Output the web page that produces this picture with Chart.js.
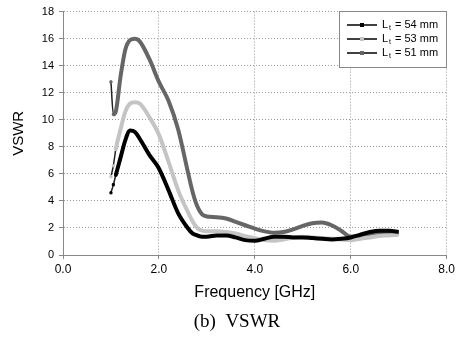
<!DOCTYPE html>
<html>
<head>
<meta charset="utf-8">
<script src="https://cdn.jsdelivr.net/npm/chart.js@4.4.1/dist/chart.umd.min.js"></script>
<style>
  html, body { margin: 0; padding: 0; background: #fff; }
  #wrap { width: 458px; height: 338px; position: relative; }
</style>
</head>
<body>
<div id="wrap"><canvas id="chart_vswr"></canvas></div>
<script>
// Data
const freq = [1.0, 1.05, 1.1, 1.2, 1.3, 1.4, 1.5, 1.6, 1.8, 2.0, 2.2, 2.4, 2.6, 2.7, 2.8, 2.9, 3.0, 3.2, 3.4, 3.6, 3.8, 4.0, 4.2, 4.4, 4.6, 4.8, 5.0, 5.2, 5.4, 5.6, 5.8, 6.0, 6.2, 6.4, 6.6, 6.8, 7.0];
const vswr54 = [4.6, 5.2, 5.9, 7.2, 8.5, 9.2, 9.1, 8.6, 7.4, 6.4, 4.8, 3.1, 2.0, 1.6, 1.45, 1.35, 1.35, 1.45, 1.45, 1.3, 1.1, 1.05, 1.2, 1.35, 1.35, 1.3, 1.3, 1.25, 1.2, 1.15, 1.2, 1.3, 1.5, 1.7, 1.8, 1.8, 1.7];
const vswr53 = [5.8, 6.6, 7.8, 9.3, 10.6, 11.2, 11.3, 11.2, 10.2, 8.9, 6.9, 4.8, 3.2, 2.5, 2.0, 1.8, 1.75, 1.75, 1.7, 1.6, 1.4, 1.25, 1.1, 1.05, 1.15, 1.3, 1.35, 1.3, 1.25, 1.2, 1.15, 1.1, 1.2, 1.3, 1.4, 1.45, 1.5];
const vswr51 = [12.8, 10.4, 10.6, 13.2, 15.2, 15.9, 16.0, 15.8, 14.5, 12.8, 11.4, 9.3, 6.2, 4.7, 3.6, 3.0, 2.85, 2.8, 2.7, 2.45, 2.2, 1.95, 1.75, 1.65, 1.7, 1.9, 2.15, 2.35, 2.4, 2.2, 1.8, 1.35, 1.4, 1.55, 1.65, 1.7, 1.6];
const seriesNames = ['54 mm', '53 mm', '51 mm'];
const xTicks = [0, 2, 4, 6, 8];

function makeSeries(values, color, thinCount) {
  return {
    data: freq.map((f, i) => ({x: f, y: values[i]})),
    borderColor: color,
    backgroundColor: color,
    borderWidth: 4,
    cubicInterpolationMode: 'monotone',
    pointStyle: 'rect',
    pointRadius: values.map((v, i) => i <= thinCount ? 1.5 : 0),
    pointBorderWidth: 1,
    pointBorderColor: color,
    segment: {
      borderWidth: ctx => ctx.p0DataIndex < thinCount ? 1.5 : 4,
      borderColor: ctx => ctx.p0DataIndex < thinCount ? '#222' : color
    }
  };
}

// Legend box with subscript "t"
const legendBox = {
  id: 'legendBox',
  afterDraw(chart) {
    const c = chart.ctx;
    const x0 = 339, y0 = 11, w = 107, h = 56;
    c.save();
    c.fillStyle = '#fff';
    c.fillRect(x0, y0, w, h);
    c.strokeStyle = '#888';
    c.lineWidth = 1;
    c.strokeRect(x0 + 0.5, y0 + 0.5, w, h);
    const colors = ['#000', '#c4c4c4', '#666'];
    seriesNames.forEach((name, i) => {
      const y = 25 + i * 14;
      c.strokeStyle = '#000';
      c.lineWidth = 1.5;
      c.beginPath();
      c.moveTo(347, y);
      c.lineTo(377, y);
      c.stroke();
      c.fillStyle = colors[i];
      c.fillRect(360, y - 2, 4, 4);
      c.fillStyle = '#000';
      c.textBaseline = 'middle';
      c.font = '11px "Liberation Sans", Arial, sans-serif';
      c.fillText('L', 382, y);
      c.font = '7px "Liberation Sans", Arial, sans-serif';
      c.fillText('t', 389, y + 3);
      c.font = '11px "Liberation Sans", Arial, sans-serif';
      c.fillText('= ' + name, 395, y);
    });
    c.restore();
  }
};

// Caption below the chart
const caption = {
  id: 'caption',
  afterDraw(chart) {
    const c = chart.ctx;
    c.save();
    c.fillStyle = '#000';
    c.font = '19px "Liberation Serif", "Times New Roman", serif';
    c.textAlign = 'center';
    c.textBaseline = 'middle';
    c.fillText('(b)  VSWR', 237, 322);
    c.restore();
  }
};

document.addEventListener('DOMContentLoaded', function() {
  const ctx = document.getElementById('chart_vswr').getContext('2d');
  new Chart(ctx, {
    type: 'line',
    data: {
      datasets: [
        makeSeries(vswr54, '#000000', 2),
        makeSeries(vswr53, '#c4c4c4', 2),
        makeSeries(vswr51, '#666666', 1)
      ]
    },
    options: {
      responsive: true,
      maintainAspectRatio: false,
      animation: false,
      layout: {padding: {left: 0, right: 10, top: 5, bottom: 32}},
      plugins: {
        legend: {display: false},
        tooltip: {enabled: false}
      },
      scales: {
        x: {
          type: 'linear',
          min: 0,
          max: 8,
          afterBuildTicks: axis => { axis.ticks = xTicks.map(v => ({value: v})); },
          afterFit: axis => { axis.height = 51; },
          ticks: {
            color: '#000',
            font: {family: '"Liberation Sans", Arial, sans-serif', size: 12},
            padding: 3,
            maxRotation: 0,
            callback: v => v.toFixed(1)
          },
          grid: {
            color: '#999',
            tickColor: '#888',
            tickLength: 4
          },
          border: {display: true, color: '#888', width: 1, dash: [1, 2]},
          title: {
            display: true,
            text: 'Frequency [GHz]',
            color: '#000',
            font: {family: '"Liberation Sans", Arial, sans-serif', size: 16},
            padding: {top: 5}
          }
        },
        y: {
          min: 0,
          max: 18,
          afterFit: axis => { axis.width = 63; },
          ticks: {
            stepSize: 2,
            color: '#000',
            font: {family: '"Liberation Sans", Arial, sans-serif', size: 11},
            padding: 5
          },
          grid: {
            color: '#999',
            tickColor: '#888',
            tickLength: 4
          },
          border: {display: true, color: '#888', width: 1, dash: [1, 2]},
          title: {
            display: true,
            text: 'VSWR',
            color: '#000',
            font: {family: '"Liberation Sans", Arial, sans-serif', size: 15},
            padding: {top: 10, bottom: 0}
          }
        }
      }
    },
    plugins: [legendBox, caption]
  });
});
</script>
</body>
</html>
